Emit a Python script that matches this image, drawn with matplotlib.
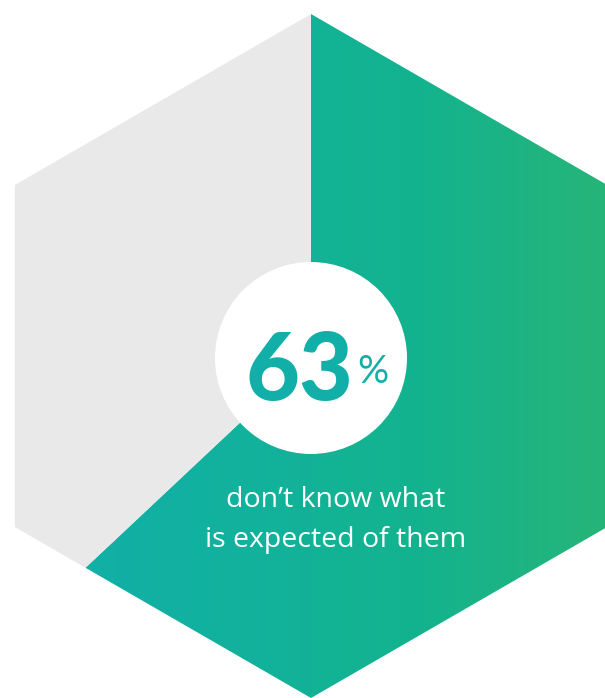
import matplotlib.pyplot as plt
import numpy as np
from matplotlib.patches import Polygon, Circle
from matplotlib.colors import LinearSegmentedColormap

# data
share = 63
label_big = "63"
label_text = ["don\u2019t know what", "is expected of them"]

# colours
grey = "#E9E9E9"
grad_cols = ["#13ADAB", "#11B1A0", "#14B38E", "#2AB573"]
digit_col = "#12AFA8"

R = 342
W, H = 605, 698
cx, cy = 311, 356   # hexagon centre in pixel coords


def hex_r(theta):
    # distance from centre to a pointy-top hexagon edge along angle theta (deg)
    phi = np.round(theta / 60.0) * 60.0
    return R * np.sqrt(3) / 2 / np.cos(np.deg2rad(theta - phi))


def hex_sector(t1, t2):
    # polygon of the hexagon between angles t1 < t2 (counter-clockwise)
    angs = [t1] + [a for a in np.arange(-270, 450, 60) + 0.0 if t1 < a < t2] + [t2]
    pts = [(0, 0)]
    for a in angs:
        r = hex_r(a)
        pts.append((r * np.cos(np.deg2rad(a)), r * np.sin(np.deg2rad(a))))
    return np.array(pts)


fig = plt.figure(figsize=(W / 100, H / 100), dpi=100)
ax = fig.add_axes([0, 0, 1, 1])
ax.set_xlim(-cx, W - cx)
ax.set_ylim(-(H - cy), cy)
ax.set_aspect("equal")
ax.axis("off")

sweep = 360 * share / 100
green_poly = Polygon(hex_sector(90 - sweep, 90), closed=True, fc="none", ec="none")
grey_poly = Polygon(hex_sector(90, 90 + 360 - sweep), closed=True,
                    fc=grey, ec="none", zorder=2)
ax.add_patch(green_poly)
ax.add_patch(grey_poly)

# horizontal gradient clipped to the green sector
cmap = LinearSegmentedColormap.from_list("g", grad_cols)
grad = np.linspace(0, 1, 512).reshape(1, -1)
img = ax.imshow(grad, cmap=cmap, aspect="auto",
                extent=[-R, R, -R, R], interpolation="bilinear", zorder=1)
img.set_clip_path(green_poly)

# centre disc
ax.add_patch(Circle((0, -2), 96, fc="white", ec="none", zorder=3))

ax.text(-12, -44, label_big, ha="center", va="baseline", fontsize=67,
        fontweight="black", family="Lato", color=digit_col, zorder=4)
ax.text(62, -27, "%", ha="center", va="baseline", fontsize=28,
        fontweight="normal", family="Lato", color=digit_col, zorder=4)

ax.text(25, -151, label_text[0], ha="center", va="baseline", fontsize=20.5,
        family="Open Sans", color="white", zorder=4)
ax.text(25, -191, label_text[1], ha="center", va="baseline", fontsize=20.5,
        family="Open Sans", color="white", zorder=4)

fig.savefig("out.png", dpi=100)
